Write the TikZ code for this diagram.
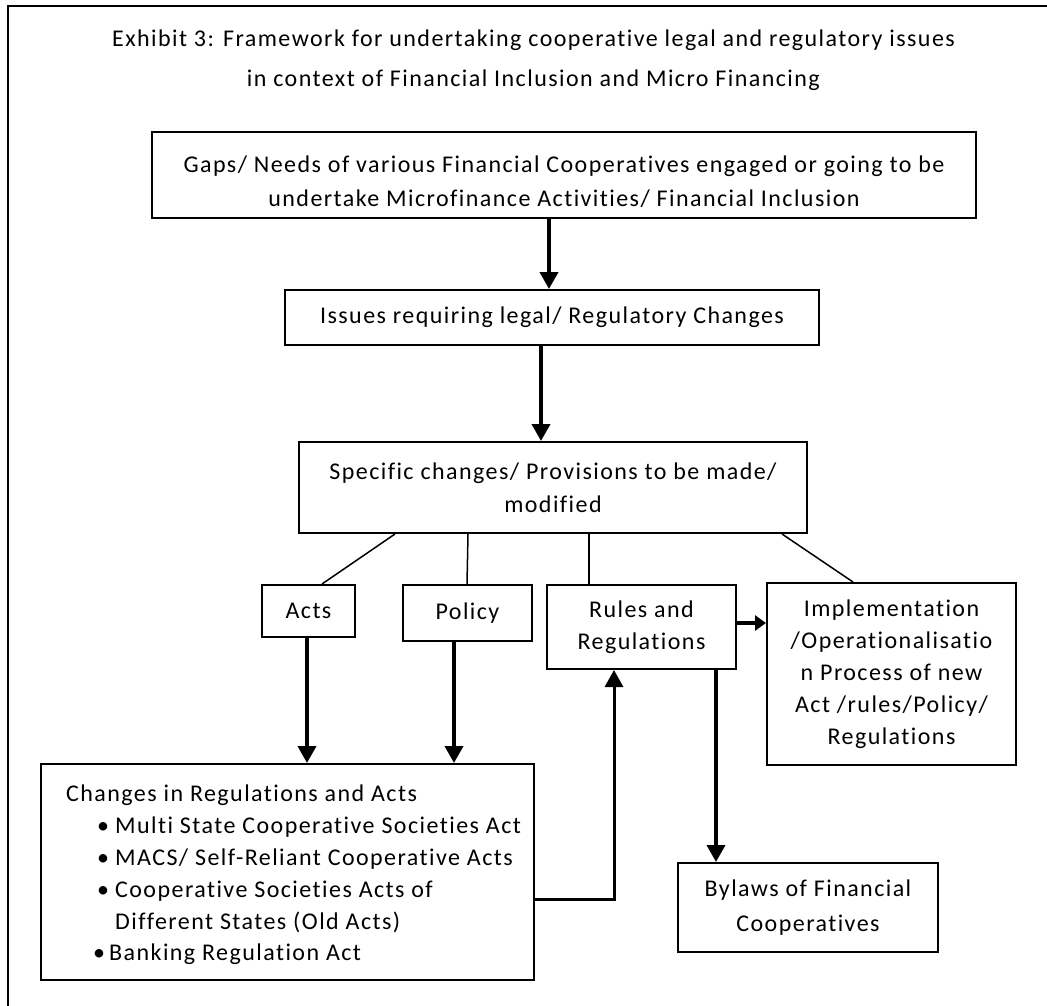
\documentclass[tikz,border=0pt]{standalone}
\usepackage{fontspec}
\setmainfont{Carlito}[LetterSpace=6,Ligatures=NoCommon]
\usetikzlibrary{arrows.meta}
\begin{document}
\begin{tikzpicture}[x=1pt,y=-1pt,
  box/.style={draw, line width=2pt, inner sep=0pt, align=center, font=\fontsize{24}{32}\selectfont},
  arr/.style={line width=3.8pt, -{Triangle[length=17pt,width=18pt]}},
  sarr/.style={line width=3.8pt, -{Triangle[length=11pt,width=15pt]}},
  thin/.style={line width=1.5pt}]
\useasboundingbox (0,0) rectangle (1047,1006);
\draw[line width=1.8pt] (1047,6) -- (8,6) -- (8,1006);
\node[font=\fontsize{24}{40}\selectfont, align=center] (title) at (533.5,60)
  {Exhibit 3: Framework for undertaking cooperative legal and regulatory issues\\in context of Financial Inclusion and Micro Financing};
\node[box, minimum width=824pt, minimum height=86pt, font=\fontsize{24}{34}\selectfont] (gaps) at (564,175)
  {\rule{0pt}{30pt}Gaps/ Needs of various Financial Cooperatives engaged or going to be\\undertake Microfinance Activities/ Financial Inclusion};
\node[box, minimum width=534pt, minimum height=55pt] (issues) at (552,317.5)
  {Issues requiring legal/ Regulatory Changes};
\node[box, minimum width=508pt, minimum height=91pt, font=\fontsize{24}{33}\selectfont] (spec) at (553,487.5)
  {Specific changes/ Provisions to be made/\\modified};
\node[box, minimum width=93pt, minimum height=52pt] (acts) at (308.5,611) {Acts};
\node[box, minimum width=129pt, minimum height=56pt] (policy) at (467.5,613) {Policy};
\node[box, minimum width=189pt, minimum height=84pt] (rules) at (641.5,627) {Rules and\\Regulations};
\node[box, minimum width=249pt, minimum height=182pt] (impl) at (891.5,674)
  {Implementation\\/Operationalisatio\\n Process of new\\Act /rules/Policy/\\Regulations};
\node[box, minimum width=493pt, minimum height=216pt] (changes) at (287.5,872) {};
\node[anchor=north west, align=left, inner sep=0pt, font=\fontsize{24}{31.8}\selectfont] (changestext) at (66,785)
  {Changes in Regulations and Acts\\
   \hspace*{31pt}\makebox[18pt][l]{\textbullet}Multi State Cooperative Societies Act\\
   \hspace*{31pt}\makebox[18pt][l]{\textbullet}MACS/ Self-Reliant Cooperative Acts\\
   \hspace*{31pt}\makebox[18pt][l]{\textbullet}Cooperative Societies Acts of\\
   \hspace*{49pt}Different States (Old Acts)\\
   \hspace*{27pt}\makebox[16pt][l]{\textbullet}Banking Regulation Act};
\node[box, minimum width=260pt, minimum height=89pt, font=\fontsize{24}{35}\selectfont] (bylaws) at (808,907.5) {Bylaws of Financial\\Cooperatives};
% connectors
\draw[arr] (gaps.south -| 549,0) -- (issues.north -| 549,0);
\draw[arr] (issues.south -| 541,0) -- (spec.north -| 541,0);
\draw[thin] (spec.south -| 395,0) -- (acts.north -| 322,0);
\draw[thin] (spec.south -| 468,0) -- (policy.north -| 467,0);
\draw[thin] (spec.south -| 589,0) -- (rules.north -| 589,0);
\draw[thin] (spec.south -| 782,0) -- (impl.north -| 853,0);
\draw[arr] (acts.south -| 307,0) -- (changes.north -| 307,0);
\draw[arr] (policy.south -| 454,0) -- (changes.north -| 454,0);
\draw[arr, line width=3pt] (changes.east |- 0,899) -| (rules.south -| 614,0);
\draw[arr] (rules.south -| 716,0) -- (bylaws.north -| 716,0);
\draw[sarr] (rules.east |- 0,623) -- (impl.west |- 0,623);
\end{tikzpicture}
\end{document}
